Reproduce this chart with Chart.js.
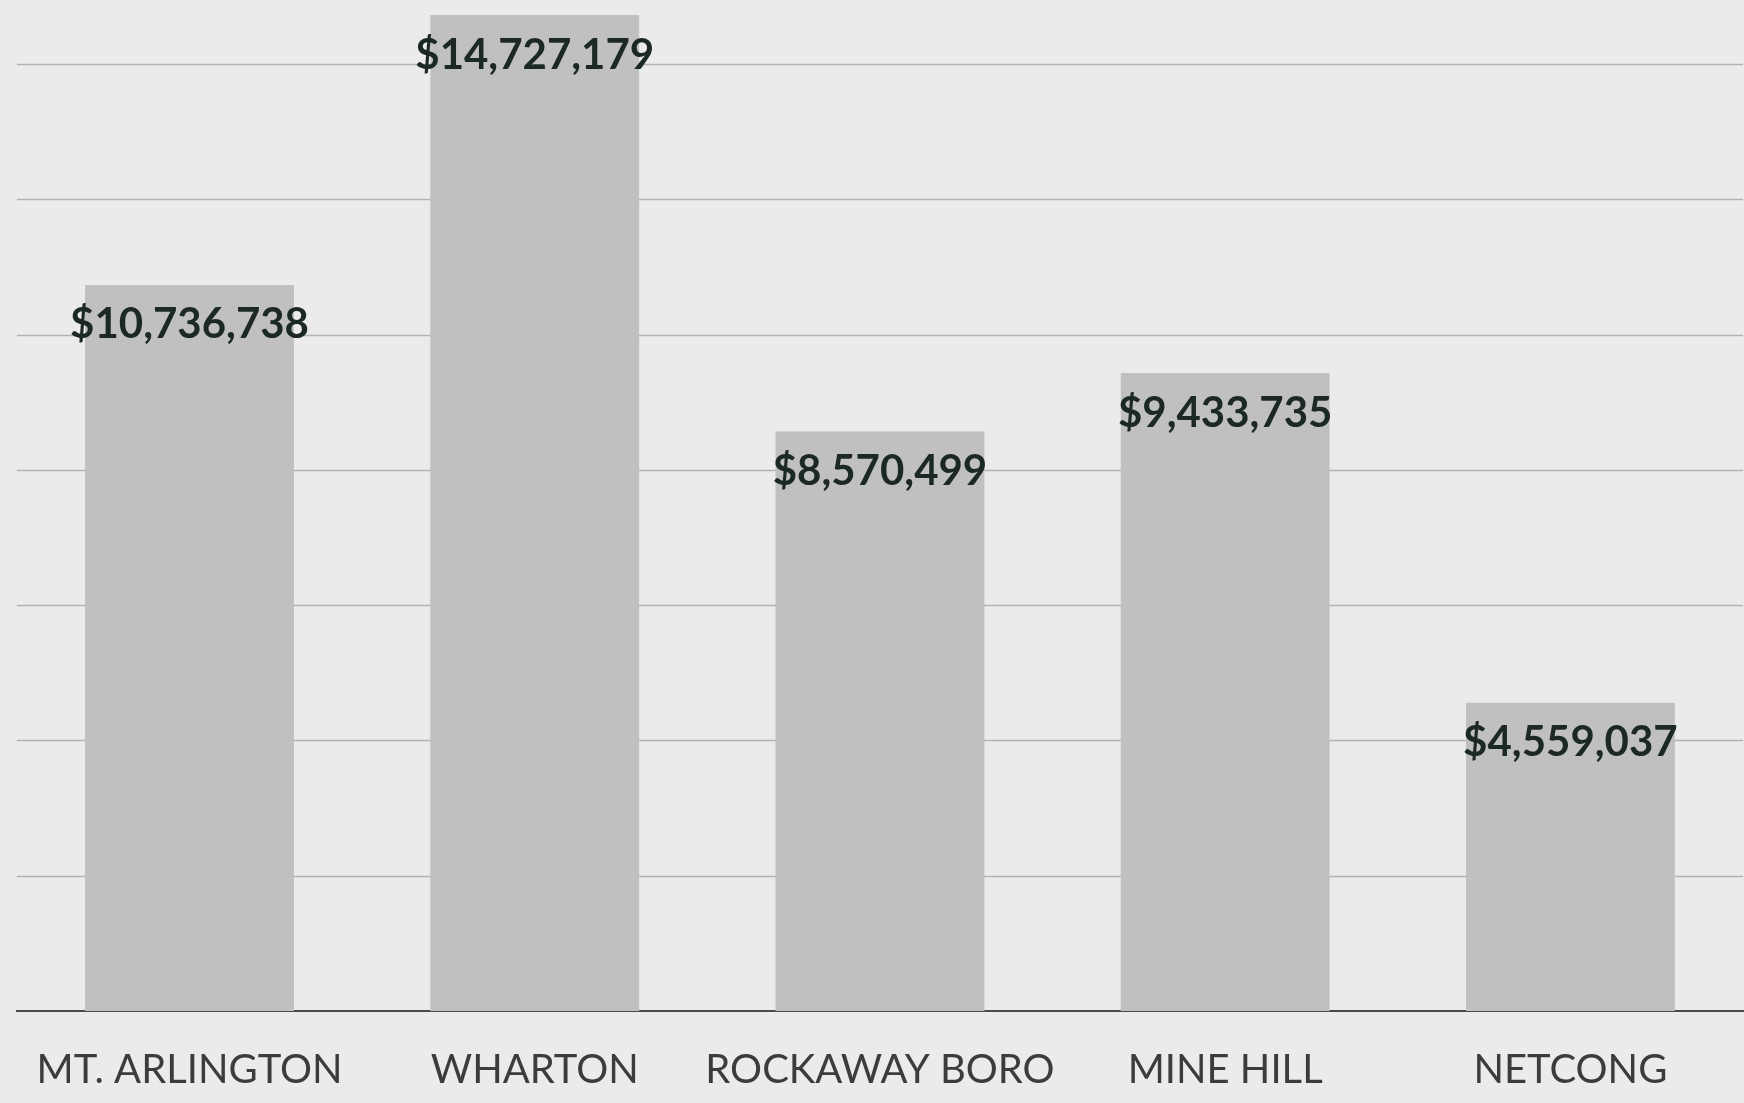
<!DOCTYPE html>
<html>
<head>
<meta charset="utf-8">
<script src="https://cdn.jsdelivr.net/npm/chart.js@4/dist/chart.umd.min.js"></script>
<style>
  html, body { margin: 0; padding: 0; background: #ebebeb; }
  canvas { display: block; }
</style>
</head>
<body>
<canvas id="aidChart" width="1744" height="1103"></canvas>
<script>
// towns and their totals
var towns = ['MT. ARLINGTON', 'WHARTON', 'ROCKAWAY BORO', 'MINE HILL', 'NETCONG'];
var totals = [10736738, 14727179, 8570499, 9433735, 4559037];
var gridStep = 2000000;
var axisMax = 14950000;

function money(v) {
  return '$' + v.toLocaleString('en-US');
}

// page background
var paperBg = {
  id: 'paperBg',
  beforeDraw: function (chart) {
    var c = chart.ctx;
    c.save();
    c.fillStyle = '#ebebeb';
    c.fillRect(0, 0, chart.width, chart.height);
    c.restore();
  }
};

// horizontal rules every gridStep, under the bars
var hLines = {
  id: 'hLines',
  beforeDatasetsDraw: function (chart) {
    var c = chart.ctx;
    var y = chart.scales.y;
    var area = chart.chartArea;
    c.save();
    c.strokeStyle = '#b2b2b2';
    c.lineWidth = 1.5;
    for (var v = gridStep; v < y.max; v += gridStep) {
      var py = Math.round(y.getPixelForValue(v)) + 0.5;
      c.beginPath();
      c.moveTo(area.left, py);
      c.lineTo(area.right, py);
      c.stroke();
    }
    c.restore();
  }
};

// dollar amount written just inside the top of each bar
var barValues = {
  id: 'barValues',
  afterDatasetsDraw: function (chart) {
    var c = chart.ctx;
    var meta = chart.getDatasetMeta(0);
    c.save();
    c.font = 'bold 42px Lato';
    c.fillStyle = '#1c2826';
    c.textAlign = 'center';
    c.textBaseline = 'middle';
    meta.data.forEach(function (bar, i) {
      c.fillText(money(totals[i]), bar.x, bar.y + 40);
    });
    c.restore();
  }
};

var ctx = document.getElementById('aidChart').getContext('2d');
var chart = new Chart(ctx, {
  type: 'bar',
  data: {
    labels: towns,
    datasets: [
      {
        data: totals,
        backgroundColor: '#c0c0c0',
        borderWidth: 0,
        barPercentage: 0.605,
        categoryPercentage: 1
      }
    ]
  },
  options: {
    responsive: false,
    animation: false,
    layout: { autoPadding: false, padding: { left: 15, right: 1, top: 0, bottom: 0 } },
    plugins: {
      legend: { display: false },
      tooltip: { enabled: false }
    },
    scales: {
      x: {
        grid: { display: false, drawTicks: false },
        border: { display: true, color: '#4a4a4a', width: 2 },
        ticks: {
          padding: 35,
          autoSkip: false,
          maxRotation: 0,
          minRotation: 0,
          color: '#3c3c3c',
          font: { family: 'Lato', size: 40 }
        },
        afterFit: function (scale) { scale.height = 92; }
      },
      y: {
        min: 0,
        max: axisMax,
        ticks: { display: false },
        grid: { display: false, drawTicks: false },
        border: { display: false }
      }
    }
  },
  plugins: [paperBg, hLines, barValues]
});
</script>
</body>
</html>
